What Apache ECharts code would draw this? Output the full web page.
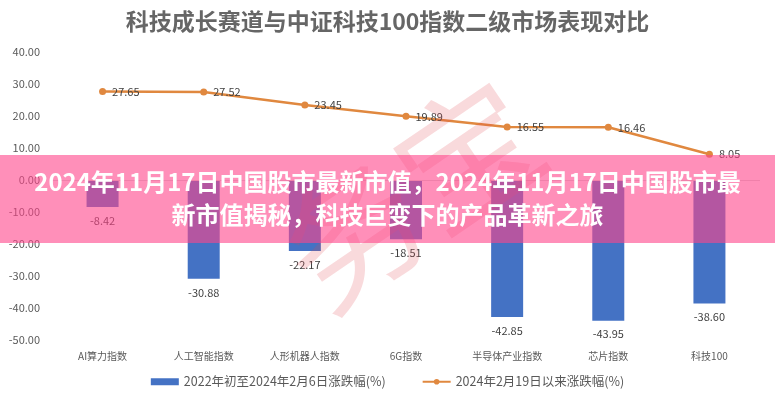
<!DOCTYPE html>
<html lang="zh">
<head>
<meta charset="UTF-8">
<title>科技成长赛道与中证科技100指数二级市场表现对比</title>
<style>
  html, body { margin: 0; padding: 0; background: #fff; }
  #main { width: 775px; height: 400px; }
</style>
<script src="https://cdn.jsdelivr.net/npm/echarts@6/dist/echarts.min.js"></script>
</head>
<body>
<div id="main"></div>
<script>
var categories = ['AI算力指数', '人工智能指数', '人形机器人指数', '6G指数', '半导体产业指数', '芯片指数', '科技100'];
var barValues = [-8.42, -30.88, -22.17, -18.51, -42.85, -43.95, -38.60];
var lineValues = [27.65, 27.52, 23.45, 19.89, 16.55, 16.46, 8.05];
var barName = '2022年初至2024年2月6日涨跌幅(%)';
var lineName = '2024年2月19日以来涨跌幅(%)';
var bannerLines = ['2024年11月17日中国股市最新市值，2024年11月17日中国股市最', '新市值揭秘，科技巨变下的产品革新之旅'];

var font = '"Noto Sans CJK SC", "Noto Sans", sans-serif';
var chart = echarts.init(document.getElementById('main'));

chart.setOption({
  animation: false,
  textStyle: { fontFamily: font },
  title: {
    text: '科技成长赛道与中证科技100指数二级市场表现对比',
    left: 'center',
    top: 5,
    textStyle: { fontSize: 23, fontWeight: 'bold', color: '#666666', fontFamily: font }
  },
  legend: {
    bottom: 7,
    left: 'center',
    itemGap: 36,
    itemWidth: 28,
    itemHeight: 7,
    textStyle: { fontSize: 12.5, color: '#595959' },
    data: [
      { name: barName, icon: 'rect' },
      { name: lineName }
    ]
  },
  grid: { left: 52, right: 15, top: 52, bottom: 60 },
  xAxis: {
    type: 'category',
    data: categories,
    position: 'bottom',
    axisLine: { show: false },
    axisTick: { show: false },
    axisLabel: { fontSize: 10, color: '#595959', margin: 11 }
  },
  yAxis: {
    type: 'value',
    min: -50,
    max: 40,
    interval: 10,
    splitLine: { show: false },
    axisLine: { show: false },
    axisTick: { show: false },
    axisLabel: {
      fontSize: 11,
      color: '#595959',
      margin: 12,
      formatter: function (v) { return v.toFixed(2); }
    }
  },
  series: [
    {
      name: barName,
      type: 'bar',
      data: barValues,
      barWidth: 32,
      itemStyle: { color: '#4472C4' },
      label: {
        show: true,
        position: 'bottom',
        distance: 8,
        fontSize: 11,
        color: '#404040',
        formatter: function (p) { return p.value.toFixed(2); }
      },
      markLine: {
        silent: true,
        symbol: 'none',
        label: { show: false },
        lineStyle: { color: '#d9d9d9', type: 'solid', width: 1 },
        data: [{ yAxis: 0 }]
      }
    },
    {
      name: lineName,
      type: 'line',
      data: lineValues,
      symbol: 'circle',
      symbolSize: 7,
      lineStyle: { color: '#E0883F', width: 2.5 },
      itemStyle: { color: '#E0883F' },
      label: {
        show: true,
        position: 'right',
        distance: 6,
        fontSize: 11,
        color: '#404040',
        formatter: function (p) { return p.value.toFixed(2); }
      }
    }
  ],
  graphic: [
    {
      type: 'text',
      z: 90,
      x: 255,
      y: 215,
      rotation: 0.6,
      style: {
        text: '务宝',
        fontSize: 140,
        fontFamily: font,
        fill: 'rgba(225,70,80,0.2)'
      }
    },
    {
      type: 'rect',
      z: 100,
      shape: { x: 0, y: 155, width: 775, height: 88 },
      style: { fill: 'rgba(255,68,138,0.6)' }
    },
    {
      type: 'text',
      z: 101,
      left: 'center',
      top: 170,
      style: {
        text: bannerLines[0],
        fontSize: 24,
        fontWeight: 'bold',
        fontFamily: font,
        fill: '#ffffff'
      }
    },
    {
      type: 'text',
      z: 101,
      left: 'center',
      top: 203,
      style: {
        text: bannerLines[1],
        fontSize: 24,
        fontWeight: 'bold',
        fontFamily: font,
        fill: '#ffffff'
      }
    }
  ]
});
</script>
</body>
</html>
